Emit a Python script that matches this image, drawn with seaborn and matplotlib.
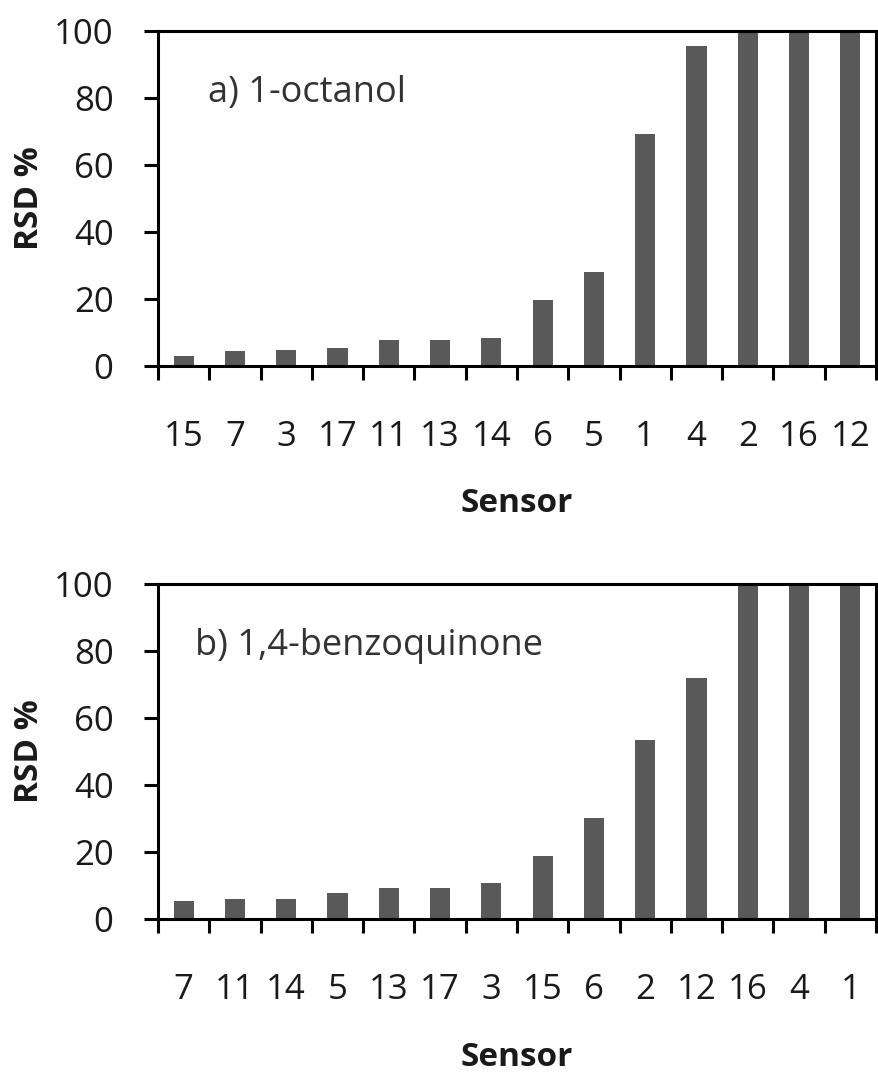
import matplotlib
matplotlib.use("Agg")
import matplotlib.pyplot as plt
import seaborn as sns
import pandas as pd
from matplotlib.ticker import FixedLocator, NullFormatter, FixedFormatter

sns.set_theme(style="white")
plt.rcParams['font.family'] = ['Open Sans', 'DejaVu Sans']

# RSD % of each sensor, ordered from lowest to highest
octanol_sensors = ["15", "7", "3", "17", "11", "13", "14", "6", "5", "1", "4", "2", "16", "12"]
octanol_rsd = [3.1, 4.4, 4.9, 5.5, 7.9, 7.9, 8.5, 19.8, 28.1, 69.3, 95.6, 100, 100, 100]

benzoquinone_sensors = ["7", "11", "14", "5", "13", "17", "3", "15", "6", "2", "12", "16", "4", "1"]
benzoquinone_rsd = [5.3, 5.9, 5.9, 7.7, 9.3, 9.3, 10.6, 18.9, 30.2, 53.5, 72.0, 100, 100, 100]

panels = [
    ("a) 1-octanol", octanol_sensors, octanol_rsd, 0.070),
    ("b) 1,4-benzoquinone", benzoquinone_sensors, benzoquinone_rsd, 0.052),
]

BAR = "#595959"
TXT = "#1a1a1a"
W, H = 879, 1075

fig = plt.figure(figsize=(W / 100, H / 100), dpi=100)
axes = [
    fig.add_axes([158 / W, 1 - 366 / H, 718 / W, 335 / H]),
    fig.add_axes([158 / W, 1 - 919 / H, 718 / W, 335 / H]),
]

for ax, (title, sensors, rsd, tx) in zip(axes, panels):
    df = pd.DataFrame({"Sensor": sensors, "RSD": rsd})
    sns.barplot(data=df, x="Sensor", y="RSD", order=sensors, color=BAR,
                saturation=1, width=0.39, edgecolor="none", ax=ax)
    n = len(sensors)
    ax.set_xlim(-0.5, n - 0.5)
    ax.set_ylim(0, 100)
    ax.set_yticks([0, 20, 40, 60, 80, 100])

    # tick marks sit on category boundaries, labels at category centres
    ax.xaxis.set_major_locator(FixedLocator([i - 0.5 for i in range(n + 1)]))
    ax.xaxis.set_major_formatter(NullFormatter())
    ax.xaxis.set_minor_locator(FixedLocator(list(range(n))))
    ax.xaxis.set_minor_formatter(FixedFormatter(sensors))
    ax.tick_params(axis="x", which="major", direction="out", length=10,
                   width=2.2, color="black", bottom=True)
    ax.tick_params(axis="x", which="minor", length=0, pad=39,
                   labelsize=25, labelcolor=TXT, bottom=True)
    ax.tick_params(axis="y", direction="out", length=10, width=2.2,
                   color="black", left=True, pad=22, labelsize=25,
                   labelcolor=TXT)

    for s in ax.spines.values():
        s.set_visible(True)
        s.set_color("black")
        s.set_linewidth(2.2)

    ax.set_xlabel("Sensor", fontsize=24, fontweight="bold", color=TXT,
                  labelpad=24)
    ax.set_ylabel("RSD %", fontsize=24, fontweight="bold", color=TXT,
                  labelpad=6)
    ax.text(tx, 0.788, title, transform=ax.transAxes, fontsize=26,
            color="#333333", ha="left", va="baseline")
    ax.grid(False)

fig.savefig("out.png", dpi=100, facecolor="white")
